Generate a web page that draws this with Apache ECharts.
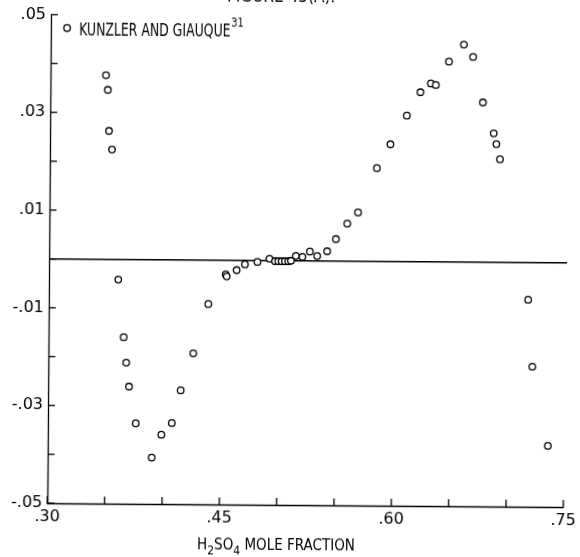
<!DOCTYPE html>
<html>
<head>
<meta charset="utf-8">
<script src="https://cdn.jsdelivr.net/npm/echarts@6/dist/echarts.min.js"></script>
<style>
  html, body { margin: 0; padding: 0; background: #fff; overflow: hidden; }
  #chart { width: 580px; height: 557px; transform: rotate(0.43deg); transform-origin: 290px 278.5px; }
</style>
</head>
<body>
<div id="chart"></div>
<script>
// Kunzler and Giauque data: deviation against H2SO4 mole fraction
const moleFraction = [
  0.3484, 0.3501, 0.3514, 0.3541, 0.3604, 0.3655, 0.3679, 0.3705, 0.3766,
  0.3907, 0.3990, 0.4080, 0.4156, 0.4263, 0.4391, 0.4541, 0.4550,
  0.4636, 0.4708, 0.4817, 0.4922,
  0.4970, 0.4999, 0.5028, 0.5057, 0.5086, 0.5109,
  0.5152, 0.5209, 0.5274, 0.5338, 0.5424, 0.5500, 0.5598, 0.5691, 0.5852, 0.5969,
  0.6110, 0.6227, 0.6318, 0.6361, 0.6474, 0.6603, 0.6684, 0.6773, 0.6869, 0.6893,
  0.6925, 0.7180, 0.7221, 0.7361
];
const deviation = [
  0.0377, 0.0347, 0.0263, 0.0225, -0.0041, -0.0159, -0.0211, -0.0260, -0.0335,
  -0.0405, -0.0358, -0.0334, -0.0267, -0.0191, -0.0090, -0.0029, -0.0033,
  -0.0020, -0.0008, -0.0003, 0.0004,
  -0.0001, -0.0001, -0.0001, -0.0001, -0.0001, 0.0000,
  0.0010, 0.0008, 0.0019, 0.0010, 0.0020, 0.0045, 0.0077, 0.0100, 0.0191, 0.0240,
  0.0299, 0.0347, 0.0365, 0.0362, 0.0410, 0.0445, 0.0420, 0.0327, 0.0264, 0.0242,
  0.0211, -0.0076, -0.0213, -0.0375
];

// zero reference line
const zeroLineX = [0.30, 0.7535];
const zeroLineY = [0, 0];

// axis ranges, tick positions and labelled ticks
const xRange = [0.30, 0.75];
const xTickStep = 0.05;
const xTickValues = [0.30, 0.35, 0.40, 0.45, 0.50, 0.55, 0.60, 0.65, 0.70, 0.75];
const xLabelled = ['.30', '.45', '.60', '.75'];
const yRange = [-0.05, 0.05];
const yTickStep = 0.01;
const yTickValues = [-0.05, -0.04, -0.03, -0.02, -0.01, 0, 0.01, 0.02, 0.03, 0.04, 0.05];
const yLabelled = ['.05', '.03', '.01', '-.01', '-.03', '-.05'];

const seriesName = 'KUNZLER AND GIAUQUE';
const seriesRef = '31';
const figureTitle = 'FIGURE 45(A).';

const narrow = '"DejaVu Sans Condensed", "Liberation Sans Narrow", "DejaVu Sans", sans-serif';
const plain = '"DejaVu Sans", "Liberation Sans", sans-serif';
const TICK_LEN = 7;
const TICK_W = 1.3;

function fmtHundredths(v) {
  const k = Math.round(v * 100);
  return (k < 0 ? '-' : '') + '.' + String(Math.abs(k)).padStart(2, '0');
}

const points = moleFraction.map((x, i) => [x, deviation[i]]);
const zeroLine = zeroLineX.map((x, i) => [x, zeroLineY[i]]);

// inward tick marks placed through the axis scales, drawn as thin filled bars
function tickSeries(name, data, vertical) {
  return {
    name,
    type: 'custom',
    silent: true,
    clip: false,
    z: 2,
    data,
    renderItem: (params, api) => {
      const p = api.coord([api.value(0), api.value(1)]);
      const shape = vertical
        ? { x: p[0] - TICK_W / 2, y: p[1] - TICK_LEN, width: TICK_W, height: TICK_LEN }
        : { x: p[0], y: p[1] - TICK_W / 2, width: TICK_LEN, height: TICK_W };
      return { type: 'rect', shape, style: { fill: '#000' } };
    }
  };
}

const chart = echarts.init(document.getElementById('chart'), null, { renderer: 'canvas' });

chart.setOption({
  backgroundColor: '#fff',
  animation: false,
  grid: { left: 49, right: 15, top: 16.5, bottom: 52, containLabel: false, outerBoundsMode: 'none' },
  xAxis: {
    type: 'value',
    min: xRange[0],
    max: xRange[1],
    interval: xTickStep,
    axisLine: { show: true, onZero: false, lineStyle: { color: '#000', width: 1.3 } },
    axisTick: { show: false },
    splitLine: { show: false },
    axisLabel: {
      margin: 6,
      interval: 0,
      hideOverlap: false,
      color: '#000',
      fontFamily: plain,
      fontSize: 16,
      showMinLabel: true,
      showMaxLabel: true,
      formatter: v => {
        const s = '.' + Math.round(v * 100);
        return xLabelled.includes(s) ? s : '';
      }
    },
    name: '{a|H}{b|2}{a|SO}{b|4}{a| MOLE FRACTION}',
    nameLocation: 'middle',
    nameGap: 34,
    nameMoveOverlap: false,
    nameTextStyle: {
      padding: [0, 58, 0, 0],
      rich: {
        a: { fontFamily: narrow, fontSize: 15, color: '#000', verticalAlign: 'top', lineHeight: 19 },
        b: { fontFamily: narrow, fontSize: 12, color: '#000', verticalAlign: 'bottom', lineHeight: 19 }
      }
    }
  },
  yAxis: {
    type: 'value',
    min: yRange[0],
    max: yRange[1],
    interval: yTickStep,
    axisLine: { show: true, onZero: false, lineStyle: { color: '#000', width: 1.3 } },
    axisTick: { show: false },
    splitLine: { show: false },
    axisLabel: {
      margin: 5,
      interval: 0,
      hideOverlap: false,
      color: '#000',
      fontFamily: plain,
      fontSize: 16,
      showMinLabel: true,
      showMaxLabel: true,
      formatter: v => {
        const s = fmtHundredths(v);
        return yLabelled.includes(s) ? s : '';
      }
    }
  },
  graphic: [
    {
      type: 'text',
      x: 225,
      y: 6.5,
      silent: true,
      style: { text: figureTitle, fontFamily: narrow, fontSize: 17, fill: '#000', align: 'left', verticalAlign: 'bottom' }
    },
    {
      // series key
      type: 'group',
      silent: true,
      children: [
        {
          type: 'circle',
          shape: { cx: 65.2, cy: 29.7, r: 3.3 },
          style: { fill: '#fff', stroke: '#000', lineWidth: 1.3 }
        },
        {
          type: 'text',
          x: 77.2,
          y: 32,
          scaleX: 0.77,
          style: { text: seriesName, fontFamily: narrow, fontSize: 18, fill: '#000', align: 'left', verticalAlign: 'middle' }
        },
        {
          type: 'text',
          x: 229.2,
          y: 24,
          scaleX: 0.85,
          style: { text: seriesRef, fontFamily: narrow, fontSize: 13, fill: '#000', align: 'left', verticalAlign: 'middle' }
        }
      ]
    }
  ],
  series: [
    tickSeries('xTicks', xTickValues.map(v => [v, yRange[0]]), true),
    tickSeries('yTicks', yTickValues.map(v => [xRange[0], v]), false),
    {
      name: 'zero',
      type: 'line',
      data: zeroLine,
      symbol: 'none',
      clip: false,
      silent: true,
      lineStyle: { color: '#000', width: 1.3 },
      z: 1
    },
    {
      name: seriesName,
      type: 'scatter',
      data: points,
      symbol: 'circle',
      symbolSize: 6.5,
      itemStyle: { color: '#fff', borderColor: '#000', borderWidth: 1.3, opacity: 1 },
      z: 3
    }
  ]
});
</script>
</body>
</html>
